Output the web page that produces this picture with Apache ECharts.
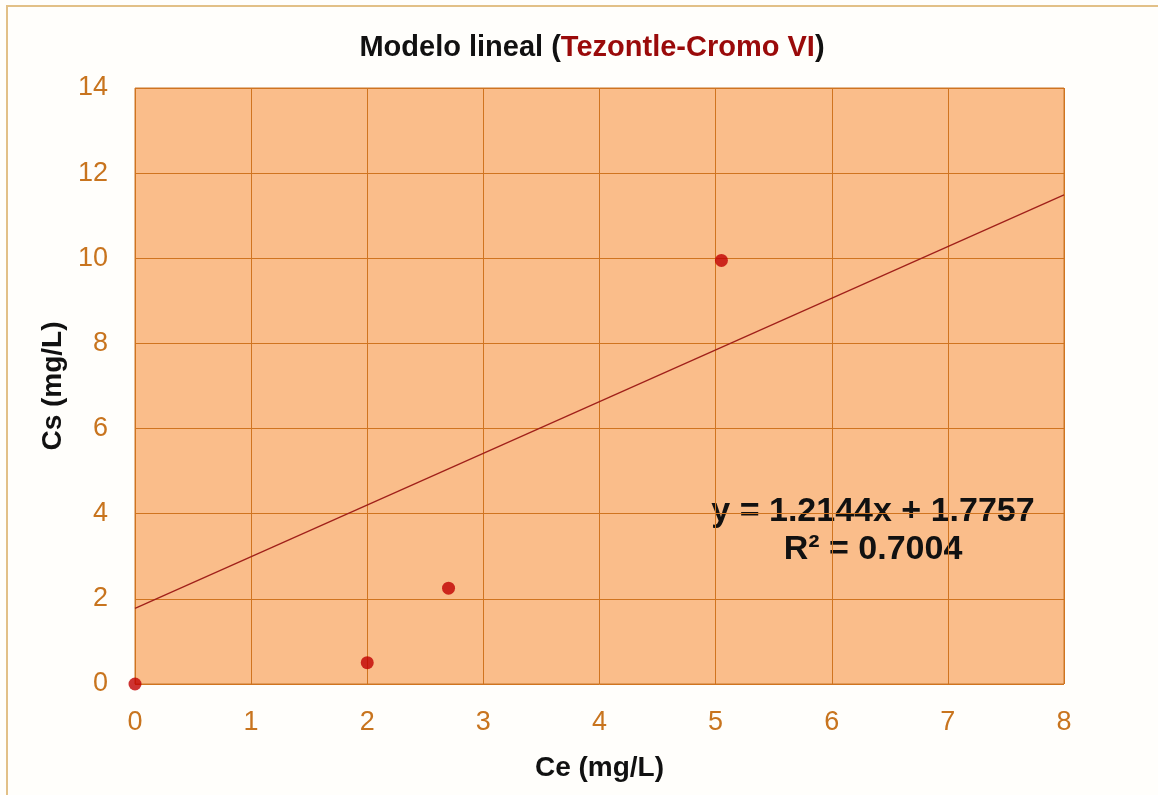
<!DOCTYPE html>
<html><head><meta charset="utf-8">
<script src="https://cdn.jsdelivr.net/npm/echarts@6/dist/echarts.min.js"></script>
<style>html,body{margin:0;padding:0;background:#fff}#c{width:1158px;height:795px}</style>
</head><body><div id="c"></div>
<script>
const ceValues = [0, 2, 2.7, 5.05];
const csValues = [0, 0.5, 2.25, 9.95];
const trendSlope = 1.2144;
const trendIntercept = 1.7757;
const trendRange = [0, 8];
const xTicks = [0, 8, 1];
const yTicks = [0, 14, 2];

const pts = ceValues.map((x, i) => [x, csValues[i]]);
const trend = trendRange.map(x => [x, trendSlope * x + trendIntercept]);

const chart = echarts.init(document.getElementById('c'));
const labelColor = '#c8741e';
const ff = 'Liberation Sans, Arial';
chart.setOption({
  animation: false,
  backgroundColor: '#fffefb',
  title: {
    text: '{a|Modelo lineal (}{b|Tezontle-Cromo VI}{a|)}',
    left: 587, top: 43, textAlign: 'center', textVerticalAlign: 'middle',
    textStyle: { rich: {
      a: { fontFamily: ff, fontWeight: 'bold', fontSize: 29, color: '#111' },
      b: { fontFamily: ff, fontWeight: 'bold', fontSize: 29, color: '#9a0a0a' }
    } }
  },
  grid: { left: 135, right: 94, top: 88, bottom: 111, show: true,
    backgroundColor: '#fabd8a', borderColor: '#c8782e', borderWidth: 1 },
  xAxis: {
    type: 'value', min: xTicks[0], max: xTicks[1], interval: xTicks[2],
    name: 'Ce (mg/L)', nameLocation: 'middle', nameGap: 70,
    nameTextStyle: { fontFamily: ff, fontWeight: 'bold', fontSize: 28, color: '#111' },
    axisLine: { show: false }, axisTick: { show: false },
    axisLabel: { fontFamily: ff, fontSize: 27, color: labelColor, margin: 25 },
    splitLine: { show: true, lineStyle: { color: '#d0741f', width: 1 } }
  },
  yAxis: {
    type: 'value', min: yTicks[0], max: yTicks[1], interval: yTicks[2],
    name: 'Cs (mg/L)', nameLocation: 'middle', nameGap: 68, nameRotate: 90,
    nameTextStyle: { fontFamily: ff, fontWeight: 'bold', fontSize: 28, color: '#111' },
    axisLine: { show: false }, axisTick: { show: false },
    axisLabel: { fontFamily: ff, fontSize: 27, color: labelColor, margin: 27 },
    splitLine: { show: true, lineStyle: { color: '#d0741f', width: 1 } }
  },
  series: [
    { type: 'line', data: trend, symbol: 'none', lineStyle: { color: '#a0201a', width: 1.3 }, z: 3 },
    { type: 'scatter', data: pts, symbol: 'circle', symbolSize: 13,
      itemStyle: { color: '#c00000' }, z: 4 }
  ],
  graphic: [
    { type: 'rect', shape: { x: 7, y: 6, width: 1160, height: 800 },
      style: { fill: 'none', stroke: '#e2c087', lineWidth: 2 }, silent: true },
    { type: 'text', x: 873, y: 493, style: {
      text: 'y = 1.2144x + 1.7757\nR² = 0.7004', textAlign: 'center',
      fontFamily: ff, fontWeight: 'bold', fontSize: 34, lineHeight: 38, fill: '#111' } }
  ]
});
</script></body></html>
